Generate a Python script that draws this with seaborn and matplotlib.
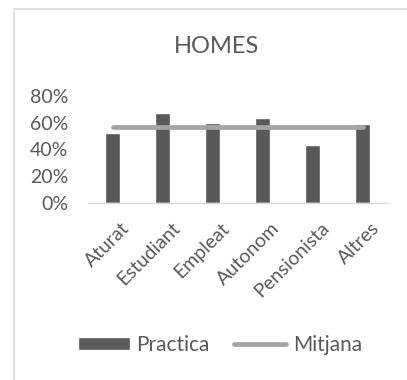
import matplotlib
matplotlib.use("Agg")
import matplotlib.pyplot as plt
from matplotlib.patches import Rectangle
from matplotlib.ticker import PercentFormatter
from matplotlib.transforms import ScaledTranslation
import seaborn as sns
import pandas as pd

categories = ["Aturat", "Estudiant", "Empleat", "Autonom", "Pensionista", "Altres"]
practica = [0.52, 0.675, 0.598, 0.632, 0.43, 0.592]
mitjana = [0.565, 0.565, 0.565, 0.565, 0.565, 0.565]
y_ticks = [0.0, 0.2, 0.4, 0.6, 0.8]

sns.set_theme(style="white")
plt.rcParams["font.family"] = ["Lato", "DejaVu Sans"]

TEXT = "#595959"
BAR = "#595959"
LINE = "#a5a5a5"
GRID = "#d9d9d9"

df = pd.DataFrame({"categoria": categories, "Practica": practica, "Mitjana": mitjana})

fig = plt.figure(figsize=(4.07, 3.80), dpi=100)
ax = fig.add_axes([0.216, 0.4666, 0.737, 0.2808])

sns.barplot(data=df, x="categoria", y="Practica", color=BAR, width=0.3,
            saturation=1, ax=ax, label="Practica")
sns.lineplot(x=range(len(categories)), y=df["Mitjana"], color=LINE, linewidth=3.4,
             ax=ax, label="Mitjana", solid_capstyle="round")

ax.set_xlim(-0.5, len(categories) - 0.5)
ax.set_ylim(0, 0.8)
ax.set_yticks(y_ticks)
ax.yaxis.set_major_formatter(PercentFormatter(1.0, decimals=0))
ax.set_xlabel("")
ax.set_ylabel("")
for side in ["top", "right", "left"]:
    ax.spines[side].set_visible(False)
ax.spines["bottom"].set_color(GRID)
ax.spines["bottom"].set_linewidth(1.0)
ax.tick_params(axis="both", length=0, colors=TEXT, labelsize=14)
ax.tick_params(axis="y", pad=14)
ax.tick_params(axis="x", pad=12)
shift = ScaledTranslation(8 / 100, 0, fig.dpi_scale_trans)
for lab in ax.get_xticklabels():
    lab.set_rotation(45)
    lab.set_ha("right")
    lab.set_va("top")
    lab.set_rotation_mode("anchor")
    lab.set_transform(lab.get_transform() + shift)

fig.text(0.531, 0.878, "HOMES", ha="center", va="center", color=TEXT, fontsize=17)

handles, labels = ax.get_legend_handles_labels()
ax.get_legend().remove()
order = [labels.index("Practica"), labels.index("Mitjana")]
fig.legend([handles[i] for i in order], [labels[i] for i in order],
           loc="center", bbox_to_anchor=(0.54, 0.092), ncol=2,
           frameon=False, fontsize=15, labelcolor=TEXT, handlelength=2.5,
           handleheight=0.62, handletextpad=0.3, columnspacing=1.2)

fig.patches.append(Rectangle((14 / 407, -0.1), 1.2, 1.1 - 9 / 380, transform=fig.transFigure,
                             fill=False, edgecolor=GRID, linewidth=1.2))

fig.savefig("out.png", dpi=100)
